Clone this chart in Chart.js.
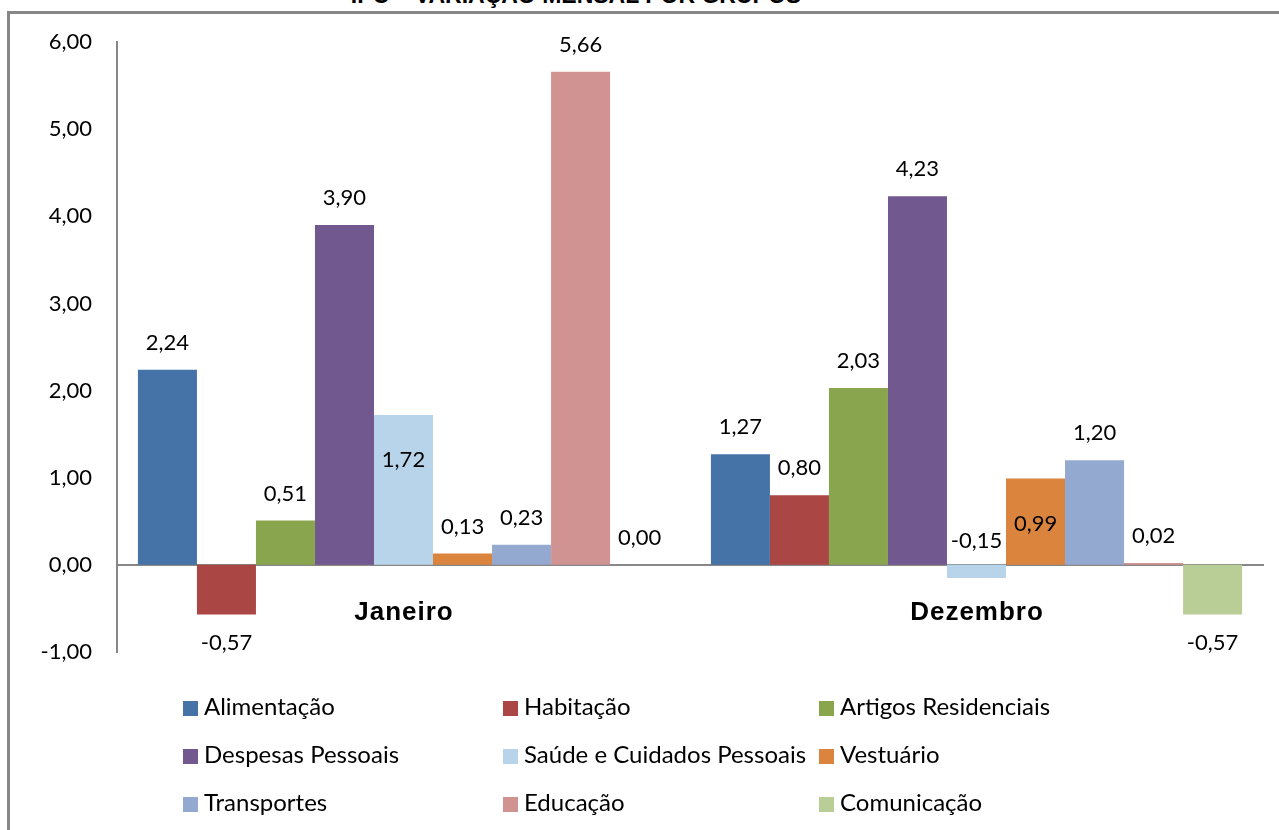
<!DOCTYPE html>
<html>
<head>
<meta charset="utf-8">
<script src="https://cdn.jsdelivr.net/npm/chart.js@4/dist/chart.umd.min.js"></script>
<style>
  html, body { margin: 0; padding: 0; background: #fff; overflow: hidden; }
  body { width: 1279px; height: 830px; position: relative; }
  .frame { position: absolute; left: 7px; top: 11px; width: 1400px; height: 900px; border: 3px solid #878787; box-sizing: border-box; }
  .title { position: absolute; left: 576px; top: -16px; transform: translateX(-50%); white-space: nowrap;
           font: bold 23px/23px "Liberation Sans", Arial, sans-serif; color: #000; }
  #chart { position: absolute; left: 0; top: 0; }
  .legend { position: absolute; left: 0; top: 0; font: 24px Lato, sans-serif; color: #000; }
  .legend .item { position: absolute; white-space: nowrap; line-height: 24px; }
  .legend .box { display: inline-block; width: 15px; height: 15px; margin-right: 6px; vertical-align: -1px; }
</style>
</head>
<body>
<div class="frame"></div>
<div class="title">IPC – VARIAÇÃO MENSAL POR GRUPOS</div>
<canvas id="chart" width="1279" height="830"></canvas>
<div class="legend" id="legend"></div>
<script>
const months = ['Janeiro', 'Dezembro']
const groups = ['Alimentação', 'Habitação', 'Artigos Residenciais', 'Despesas Pessoais',
  'Saúde e Cuidados Pessoais', 'Vestuário', 'Transportes', 'Educação', 'Comunicação']
const alimentacao = [2.24, 1.27]
const habitacao = [-0.57, 0.80]
const artigos = [0.51, 2.03]
const despesas = [3.90, 4.23]
const saude = [1.72, -0.15]
const vestuario = [0.13, 0.99]
const transportes = [0.23, 1.20]
const educacao = [5.66, 0.02]
const comunicacao = [0.00, -0.57]
const yTicks = [6, 5, 4, 3, 2, 1, 0, -1]

const colors = ['#4572a7', '#aa4643', '#89a54e', '#71588f', '#b7d4ea', '#db843d', '#93a9cf', '#d19392', '#b9cd96']
const series = [alimentacao, habitacao, artigos, despesas, saude, vestuario, transportes, educacao, comunicacao]

const fmt = v => v.toFixed(2).replace('.', ',')

// labels Excel moved by hand: dataset-index -> where
const moved = { '4-0': 'inside', '4-1': 'aboveZero', '5-1': 'inside' }

const valueLabels = {
  id: 'valueLabels',
  afterDatasetsDraw(chart) {
    const ctx = chart.ctx
    const zero = chart.scales.y.getPixelForValue(0)
    ctx.save()
    ctx.font = '22px Lato, sans-serif'
    ctx.fillStyle = '#000'
    ctx.textAlign = 'center'
    ctx.textBaseline = 'middle'
    chart.data.datasets.forEach((ds, d) => {
      chart.getDatasetMeta(d).data.forEach((bar, i) => {
        const v = ds.data[i]
        let y
        const how = moved[d + '-' + i]
        if (how === 'inside') y = bar.y + 45
        else if (how === 'aboveZero') y = zero - 24
        else if (v < 0) y = bar.y + 28
        else y = bar.y - 27
        ctx.fillText(fmt(v), bar.x, y)
      })
    })
    // month names sit just under the zero line
    const x = chart.scales.x
    ctx.font = 'bold 26px "Liberation Sans", Arial, sans-serif'
    ctx.letterSpacing = '1px'
    months.forEach((m, i) => ctx.fillText(m, x.getPixelForValue(i) + 0.5, zero + 48))
    ctx.restore()
  }
}

const chart = new Chart(document.getElementById('chart'), {
  type: 'bar',
  data: {
    labels: months,
    datasets: groups.map((g, i) => ({
      label: g,
      data: series[i],
      backgroundColor: colors[i],
      borderWidth: 0,
      categoryPercentage: 0.927,
      barPercentage: 1
    }))
  },
  options: {
    responsive: false,
    animation: false,
    devicePixelRatio: 1,
    layout: { padding: { top: 42, bottom: 178, left: 0, right: 16 } },
    plugins: {
      legend: { display: false },
      tooltip: { enabled: false }
    },
    scales: {
      x: {
        position: { y: 0 },
        grid: { display: false, drawTicks: false },
        border: { display: true, color: '#878787', width: 2 },
        ticks: { display: false }
      },
      y: {
        min: -1,
        max: 6,
        afterFit: s => { s.width = 117 },
        afterBuildTicks: s => { s.ticks = yTicks.map(v => ({ value: v })) },
        grid: { display: false, drawTicks: false },
        border: { display: true, color: '#878787', width: 2 },
        ticks: { color: '#000', font: { family: 'Lato', size: 22 }, padding: 25, callback: v => fmt(v) }
      }
    }
  },
  plugins: [valueLabels]
})

// legend in 3 columns, like the Excel one
const legend = document.getElementById('legend')
const colX = [183, 503, 819]
const rowY = [694, 742, 790]
chart.data.datasets.forEach((ds, i) => {
  const el = document.createElement('div')
  el.className = 'item'
  el.style.left = colX[i % 3] + 'px'
  el.style.top = rowY[Math.floor(i / 3)] + 'px'
  el.innerHTML = '<span class="box" style="background:' + ds.backgroundColor + '"></span>' + ds.label
  legend.appendChild(el)
})
</script>
</body>
</html>
